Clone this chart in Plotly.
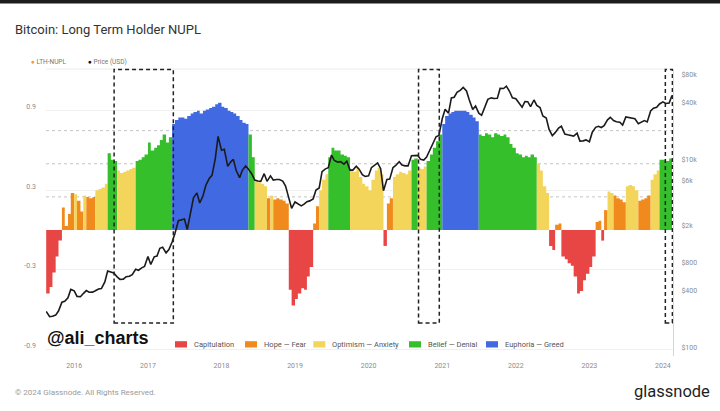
import pandas as pd
import plotly.graph_objects as go

# ---------------- data ----------------
# semi-monthly sample dates (1st and 15th of each month)
DATES = pd.date_range("2015-08-15", "2024-02-15", freq="SMS")

NUPL_2015 = [-0.48, -0.43, -0.32, -0.20, -0.08, 0.17, 0.03, 0.12, 0.28]
NUPL_2016 = [0.27, 0.22, 0.14, 0.26, 0.25, 0.24, 0.25, 0.30, 0.31, 0.32, 0.35, 0.58,
             0.53, 0.52, 0.45, 0.43, 0.44, 0.45, 0.46, 0.47, 0.52, 0.53, 0.55, 0.57]
NUPL_2017 = [0.66, 0.60, 0.62, 0.64, 0.68, 0.72, 0.66, 0.70, 0.80, 0.83, 0.85, 0.85,
             0.84, 0.86, 0.88, 0.89, 0.90, 0.88, 0.90, 0.91, 0.92, 0.93, 0.95, 0.96]
NUPL_2018 = [0.93, 0.92, 0.90, 0.89, 0.88, 0.86, 0.83, 0.81, 0.80, 0.72, 0.55, 0.37,
             0.36, 0.35, 0.33, 0.24, 0.26, 0.23, 0.24, 0.23, 0.22, 0.20, -0.45, -0.57]
NUPL_2019 = [-0.52, -0.48, -0.44, -0.45, -0.35, -0.28, 0.05, 0.18, 0.30, 0.38, 0.42, 0.55,
             0.62, 0.60, 0.60, 0.57, 0.56, 0.55, 0.46, 0.44, 0.47, 0.40, 0.35, 0.33]
NUPL_2020 = [0.30, 0.38, 0.45, 0.47, 0.42, -0.12, 0.20, 0.24, 0.40, 0.42, 0.44, 0.43,
             0.42, 0.45, 0.53, 0.54, 0.47, 0.46, 0.48, 0.52, 0.57, 0.62, 0.67, 0.72]
NUPL_2021 = [0.80, 0.86, 0.88, 0.89, 0.90, 0.90, 0.90, 0.90, 0.89, 0.87, 0.85, 0.82,
             0.72, 0.71, 0.73, 0.72, 0.70, 0.73, 0.72, 0.71, 0.72, 0.70, 0.65, 0.62]
NUPL_2022 = [0.58, 0.57, 0.55, 0.56, 0.55, 0.57, 0.55, 0.50, 0.45, 0.33, 0.28, -0.12,
             -0.15, 0.04, 0.05, -0.20, -0.22, -0.25, -0.27, -0.35, -0.48, -0.46, -0.38, -0.33]
NUPL_2023 = [-0.28, -0.20, 0.06, 0.07, -0.08, 0.15, 0.29, 0.28, 0.26, 0.24, 0.23, 0.21,
             0.33, 0.34, 0.33, 0.30, 0.22, 0.23, 0.24, 0.26, 0.38, 0.42, 0.45, 0.53]
NUPL_2024 = [0.53, 0.52, 0.54, 0.56]

# zone of each sample: C capitulation, H hope-fear, O optimism-anxiety, B belief-denial, E euphoria-greed
ZONES_2015 = "CCCCCHHHH"
ZONES_2016 = "OHHOHHHOOOOBBBOOOOOOBBBB"
ZONES_2017 = "BBBBBBBBEEEEEEEEEEEEEEEE"
ZONES_2018 = "EEEEEEEEEBBOOOOHOHHHHHCC"
ZONES_2019 = "CCCCCCHHOOOBBBBBBBOOOOOO"
ZONES_2020 = "OOOOOCHHOOOOOOBBOOOBBBBB"
ZONES_2021 = "EEEEEEEEEEEEBBBBBBBBBBBB"
ZONES_2022 = "BBBBBBBOOOOCCHHCCCCCCCCC"
ZONES_2023 = "CCHHCHOOHHHHOOOOHHHHOOOB"
ZONES_2024 = "BBBB"

PRICE_2015 = [260, 228, 230, 237, 262, 325, 333, 362, 445]
PRICE_2016 = [430, 375, 372, 402, 432, 415, 416, 430, 450, 455, 535, 700,
              675, 665, 605, 570, 572, 607, 615, 640, 730, 712, 755, 780]
PRICE_2017 = [1000, 820, 990, 1010, 1220, 1250, 1090, 1180, 1420, 1750, 2400, 2450,
              2500, 1930, 2870, 4200, 4750, 3700, 4400, 5700, 6750, 7300, 10900, 19000]
PRICE_2018 = [13500, 13800, 9100, 10100, 10800, 8200, 6900, 8300, 9200, 8500, 7500, 6500,
              6350, 6300, 7600, 6300, 7200, 6500, 6600, 6600, 6350, 5600, 4200, 3250]
PRICE_2019 = [3800, 3600, 3450, 3600, 3820, 3900, 4100, 5100, 5350, 8000, 8550, 8800,
              12000, 10500, 10100, 10200, 9600, 10300, 8300, 8300, 9150, 8500, 7400, 7100]
PRICE_2020 = [7200, 8800, 9400, 9900, 8600, 5000, 6600, 6650, 8800, 9300, 10200, 9400,
              9200, 9200, 11800, 11900, 11900, 10800, 10600, 11400, 13800, 15900, 18800, 19400]
PRICE_2021 = [29400, 36800, 33500, 48700, 49600, 56000, 59000, 63000, 57800, 46400, 36700, 40000,
              33500, 31800, 39900, 47000, 48800, 48000, 48200, 61500, 61300, 65000, 57000, 48900]
PRICE_2022 = [47700, 43100, 38700, 44500, 44400, 39300, 46300, 40500, 38500, 31300, 29800, 22500,
              19300, 20800, 23300, 24300, 20100, 19700, 19300, 19100, 20500, 16900, 17000, 17400]
PRICE_2023 = [16600, 20900, 23700, 24300, 23600, 24700, 28500, 30300, 28000, 27200, 26800, 25000,
              30600, 30300, 29700, 29200, 25900, 26600, 27900, 27000, 35400, 37800, 38700, 42000]
PRICE_2024 = [44200, 42500, 43000, 51800]

ZONE_ORDER = ["C", "H", "O", "B", "E"]
ZONE_NAMES = {"C": "Capitulation", "H": "Hope — Fear", "O": "Optimism — Anxiety",
              "B": "Belief — Denial", "E": "Euphoria — Greed"}
ZONE_COLORS = {"C": "#e84545", "H": "#f08a1c", "O": "#f4d55c", "B": "#35bf2b", "E": "#4169e1"}

THRESHOLDS = [0.25, 0.5, 0.75]
LEFT_TICKS = [0.9, 0.3, -0.3, -0.9]
RIGHT_TICKS = [100, 400, 800, 2000, 6000, 10000, 40000, 80000]
RIGHT_TICK_TEXT = ["$100", "$400", "$800", "$2k", "$6k", "$10k", "$40k", "$80k"]
HIGHLIGHTS = [("2016-07-17", "2017-05-07"), ("2020-09-05", "2020-12-17"), ("2024-01-13", "2024-02-17")]

nupl = (NUPL_2015 + NUPL_2016 + NUPL_2017 + NUPL_2018 + NUPL_2019 + NUPL_2020 +
        NUPL_2021 + NUPL_2022 + NUPL_2023 + NUPL_2024)
zones = list(ZONES_2015 + ZONES_2016 + ZONES_2017 + ZONES_2018 + ZONES_2019 + ZONES_2020 +
             ZONES_2021 + ZONES_2022 + ZONES_2023 + ZONES_2024)
price = (PRICE_2015 + PRICE_2016 + PRICE_2017 + PRICE_2018 + PRICE_2019 + PRICE_2020 +
         PRICE_2021 + PRICE_2022 + PRICE_2023 + PRICE_2024)
dates = list(DATES)
n = len(dates)
assert len(nupl) == n and len(zones) == n and len(price) == n, (n, len(nupl), len(zones), len(price))

# ---------------- layout geometry ----------------
W, H = 720, 411
ML, MR, MT, MB = 46, 47, 69, 55
PW, PH = W - ML - MR, H - MT - MB


def px(x):
    return (x - ML) / PW


def py(y):
    return (H - MB - y) / PH


FONT = "Roboto, 'Noto Sans', sans-serif"
GREY = "#8c8c8c"

fig = go.Figure()

# zone-coloured NUPL areas (one trace per run of equal zone)
start = 0
for i in range(1, n + 1):
    if i == n or zones[i] != zones[start]:
        e = i
        if e < n:
            xs = dates[start:e + 1]
            ys = nupl[start:e] + [nupl[e - 1]]
        else:
            xs = dates[start:e]
            ys = nupl[start:e]
        z = zones[start]
        fig.add_trace(go.Scatter(
            x=xs, y=ys, mode="lines", line=dict(width=0, shape="hv"),
            fill="tozeroy", fillcolor=ZONE_COLORS[z], showlegend=False,
            hoverinfo="skip", name=ZONE_NAMES[z]))
        start = i

# price line
fig.add_trace(go.Scatter(x=dates, y=price, yaxis="y2", mode="lines",
                         line=dict(color="#1b1b1b", width=1.6), showlegend=False,
                         name="Price (USD)"))

shapes = []
# zone threshold lines
for t in THRESHOLDS:
    shapes.append(dict(type="line", xref="paper", x0=0, x1=1, yref="y", y0=t, y1=t,
                       line=dict(color="#c4c4c4", width=1, dash="dot"), layer="below"))
# top border line
shapes.append(dict(type="line", xref="paper", x0=0, x1=1, yref="paper", y0=1, y1=1,
                   line=dict(color="#ececec", width=1), layer="below"))
# dashed highlight boxes
for a, b in HIGHLIGHTS:
    shapes.append(dict(type="rect", xref="x", x0=a, x1=b, yref="paper", y0=py(323), y1=py(69.5),
                       line=dict(color="#222222", width=1.5, dash="4px,3px"),
                       fillcolor="rgba(0,0,0,0)", layer="above"))
# dark strip at very top of the image
shapes.append(dict(type="rect", xref="paper", x0=px(-2), x1=px(722), yref="paper",
                   y0=py(3.5), y1=py(-2), fillcolor="#1c1c1c", line=dict(width=0)))

annotations = []
# title
annotations.append(dict(text="Bitcoin: Long Term Holder NUPL", xref="paper", yref="paper",
                        x=px(13), y=py(29), xanchor="left", yanchor="middle", showarrow=False,
                        font=dict(family=FONT, size=13, color="#333333")))
# top legend
annotations.append(dict(text='<span style="color:#f0a030">●</span> LTH-NUPL', xref="paper", yref="paper",
                        x=px(29), y=py(62), xanchor="left", yanchor="middle", showarrow=False,
                        font=dict(family=FONT, size=6.5, color="#777777")))
annotations.append(dict(text='<span style="color:#111111">●</span> Price (USD)', xref="paper", yref="paper",
                        x=px(85.5), y=py(62), xanchor="left", yanchor="middle", showarrow=False,
                        font=dict(family=FONT, size=6.5, color="#777777")))
# watermark
annotations.append(dict(text="<b>@ali_charts</b>", xref="paper", yref="paper",
                        x=px(45), y=py(338), xanchor="left", yanchor="middle", showarrow=False,
                        font=dict(family="'Liberation Sans', Arial, sans-serif", size=18, color="#111111")))
# bottom zone legend
swatch_left = [175, 245, 313.3, 409, 486]
for z, sx in zip(ZONE_ORDER, swatch_left):
    shapes.append(dict(type="rect", xref="paper", yref="paper", x0=px(sx), x1=px(sx + 12),
                       y0=py(347.5), y1=py(341.2), fillcolor=ZONE_COLORS[z], line=dict(width=0)))
    annotations.append(dict(text=ZONE_NAMES[z], xref="paper", yref="paper", x=px(sx + 16.5),
                            y=py(344.4), xanchor="left", yanchor="middle", showarrow=False,
                            font=dict(family=FONT, size=7.5, color="#555555")))
# footer
annotations.append(dict(text="© 2024 Glassnode. All Rights Reserved.", xref="paper", yref="paper",
                        x=px(13), y=py(392), xanchor="left", yanchor="middle", showarrow=False,
                        font=dict(family=FONT, size=8, color="#9a9a9a")))
annotations.append(dict(text="glassnode", xref="paper", yref="paper",
                        x=px(712), y=py(391), xanchor="right", yanchor="middle", showarrow=False,
                        font=dict(family=FONT, size=16.5, color="#1e1e1e")))

fig.update_layout(
    width=W, height=H,
    margin=dict(l=ML, r=MR, t=MT, b=MB),
    paper_bgcolor="white", plot_bgcolor="white",
    showlegend=False,
    font=dict(family=FONT, size=7, color=GREY),
    xaxis=dict(type="date", range=["2015-08-14", "2024-02-20"], tick0="2016-01-01", dtick="M12",
               tickformat="%Y", showgrid=False, zeroline=False, showline=False, ticks="",
               tickfont=dict(size=7, color=GREY), ticklabelstandoff=4),
    yaxis=dict(range=[-(H - MB - 230) / 132.5, (230 - MT) / 132.5], tickvals=LEFT_TICKS,
               ticktext=[f"{v:.1f}" for v in LEFT_TICKS], showgrid=True, gridcolor="#f0f0f0",
               zeroline=False, showline=False, ticks="", tickfont=dict(size=7, color=GREY),
               ticklabelstandoff=9, ticklabelshift=-4),
    yaxis2=dict(type="log", overlaying="y", side="right",
                range=[4.903 - (H - MB - 77.7) / 93.9, 4.903 + (77.7 - MT) / 93.9],
                tickvals=RIGHT_TICKS, ticktext=RIGHT_TICK_TEXT, showgrid=False, zeroline=False,
                showline=True, linecolor="#d6d6d6", linewidth=1, ticks="",
                tickfont=dict(size=7, color=GREY), ticklabelstandoff=6, ticklabelshift=-3),
    shapes=shapes,
    annotations=annotations,
)

fig.write_html("out.html", config={"displayModeBar": False},
               post_script="document.body.style.margin='0';document.body.style.padding='0';")
